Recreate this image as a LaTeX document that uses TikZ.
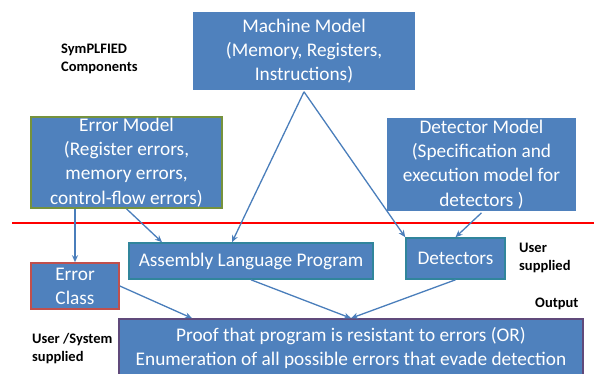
\documentclass[tikz,border=0pt]{standalone}
\usepackage{fontspec}
\setmainfont{Carlito}
\usepackage{tikz}
\usetikzlibrary{arrows.meta,positioning,shadows}
\definecolor{SBlue}{HTML}{4F81BD}
\definecolor{SLine}{HTML}{4A7EBB}
\definecolor{SOlive}{HTML}{76923C}
\definecolor{SRed}{HTML}{C0504D}
\definecolor{STeal}{HTML}{31859C}
\definecolor{SPurple}{HTML}{604A7B}

\begin{document}
\begin{tikzpicture}[
        x=1pt,y=-1pt,
        every node/.style={font=\fontsize{19.3}{24.2}\selectfont},
        box/.style={fill=SBlue,text=white,align=center,inner sep=0pt,line width=1.6pt},
        wbox/.style={box,draw=white,drop shadow={shadow xshift=1.2pt,shadow yshift=-1.2pt,fill=black!35}},
        note/.style={font=\fontsize{14.5}{18}\selectfont\bfseries,align=left,inner sep=0pt,anchor=north west},
        arrow/.style={-{Stealth[length=7pt,width=6pt]},line width=1.3pt,draw=SLine}
      ]
      \useasboundingbox (0,0) rectangle (594,373);
      \node[wbox,minimum width=224,minimum height=80] (machine) at (304,51)
        {Machine Model\\(Memory, Registers,\\Instructions)};
      \node[box,draw=SOlive,minimum width=191,minimum height=91] (errmodel) at (126.5,162.5)
        {Error Model\\(Register errors,\\memory errors,\\control-flow errors)};
      \node[wbox,minimum width=191,minimum height=95] (detmodel) at (481.5,164.5)
        {Detector Model\\(Specification and\\execution model for\\detectors )};
      \node[box,draw=SRed,minimum width=88,minimum height=46] (errclass) at (75,286)
        {Error\\Class};
      \node[box,draw=STeal,minimum width=244,minimum height=36] (asm) at (251,261)
        {Assembly Language Program};
      \node[box,draw=STeal,minimum width=99,minimum height=41] (detectors) at (455.5,258.5)
        {Detectors};
      \node[box,draw=SPurple,minimum width=464,minimum height=58] (proof) at (351,348)
        {Proof that program is resistant to errors (OR)\\Enumeration of all possible errors that evade detection};

      \node[note] (symp) at (61,44) {SymPLFIED\\Components};
      \node[note] (usersup) at (519,243) {User\\supplied};
      \node[note] (output) at (535,298) {Output};
      \node[note] (syssup) at (32,333) {User /System\\supplied};

      \draw[red,line width=1.5pt] (12,223) -- (594,223);

      \draw[arrow] (machine.south) -- ([xshift=-19]asm.north);
      \draw[arrow] (machine.south) -- (detectors.north west);
      \draw[arrow] (detmodel.south) -- (detectors.north);
      \draw[arrow] ([xshift=-51.5]errmodel.south) -- (errclass.north);
      \draw[arrow] (errmodel.south) -- ([xshift=-89]asm.north);
      \draw[arrow] (errclass.east) -- ([xshift=-159]proof.north);
      \draw[arrow] (asm.south) -- (proof.north);
      \draw[arrow] (detectors.south) -- (proof.north);
    \end{tikzpicture}
\end{document}
